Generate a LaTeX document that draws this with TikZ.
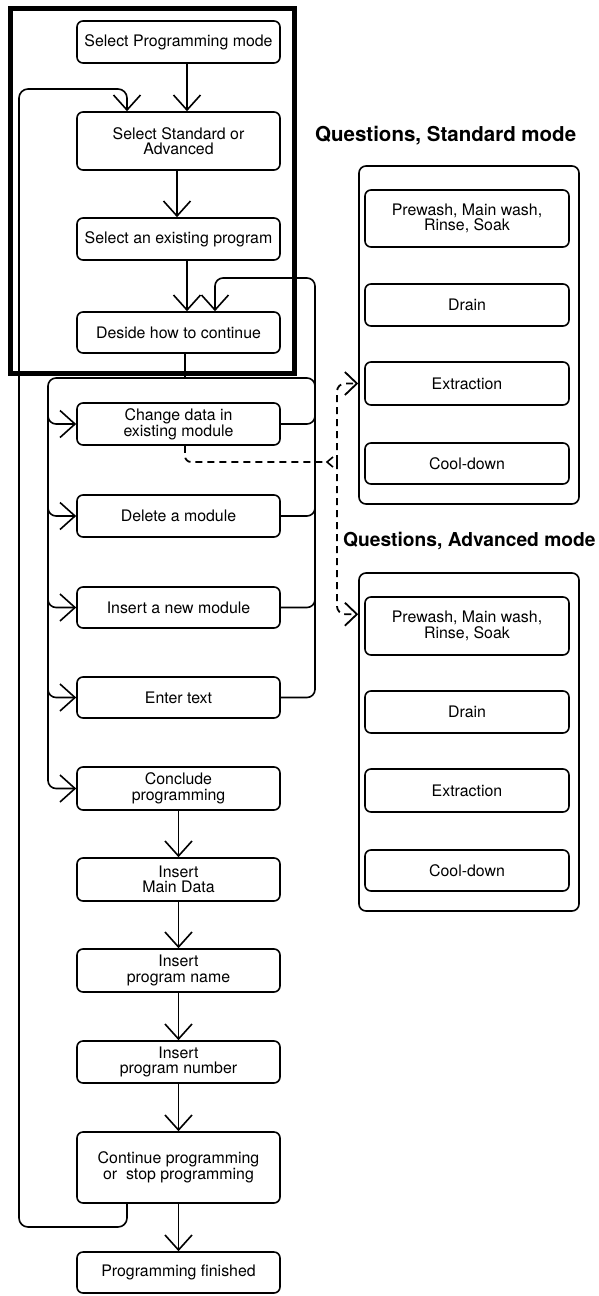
\documentclass[tikz,border=0pt]{standalone}
\usepackage{fontspec}
\setmainfont{TeX Gyre Heros}
\usetikzlibrary{arrows.meta,calc}
\begin{document}
\begin{tikzpicture}[x=1pt,y=-1pt,
  box/.style={draw, line width=1.6pt, rounded corners=6pt, minimum width=203pt, inner sep=0pt, align=center, font=\fontsize{15.9}{15.6}\selectfont},
  qbox/.style={box, minimum width=204pt},
  panel/.style={draw, line width=1.6pt, rounded corners=7pt, minimum width=220pt, minimum height=338pt, inner sep=0pt},
  ln/.style={line width=1.6pt},
  arr/.style={ln, -{Straight Barb[length=15pt,width=27pt]}},
  dsh/.style={line width=1.8pt, dash pattern=on 7pt off 5pt},
  darr/.style={dsh, -{Straight Barb[length=12pt,width=23pt]}},
  hd/.style={anchor=base west, inner sep=0pt, font=\bfseries\fontsize{#1}{#1}\selectfont}
]
\useasboundingbox (0,0) rectangle (598,1296);

% main column
\node[box, minimum height=42pt] (sel)  at (178.5,42)    {Select Programming mode};
\node[box, minimum height=58pt] (std)  at (178.5,141)   {Select Standard or\\Advanced};
\node[box, minimum height=42pt] (exi)  at (178.5,239)   {Select an existing program};
\node[box, minimum height=41pt] (des)  at (178.5,332.5) {Deside how to continue};
\node[box, minimum height=42pt] (chg)  at (178.5,424)   {Change data in\\existing module};
\node[box, minimum height=42pt] (del)  at (178.5,516)   {Delete a module};
\node[box, minimum height=41pt] (ins)  at (178.5,607.5) {Insert a new module};
\node[box, minimum height=41pt] (ent)  at (178.5,697.5) {Enter text};
\node[box, minimum height=43pt] (con)  at (178.5,788.5) {Conclude\\programming};
\node[box, minimum height=43pt] (mdat) at (178.5,879.5) {Insert\\Main Data};
\node[box, minimum height=43pt] (pnam) at (178.5,970.5) {Insert\\program name};
\node[box, minimum height=42pt] (pnum) at (178.5,1062)  {Insert\\program number};
\node[box, minimum height=71pt] (cont) at (178.5,1167.5){Continue programming\\or\ \ stop programming};
\node[box, minimum height=41pt] (fin)  at (178.5,1272.5){Programming finished};

% question panels
\node[hd=20.5] (hs) at (315,141) {Questions, Standard mode};
\node[panel] (spanel) at (469,335) {};
\node[qbox, minimum height=57pt] (sp) at (467,218.5) {Prewash, Main wash,\\Rinse, Soak};
\node[qbox, minimum height=42pt] (sd) at (467,305)   {Drain};
\node[qbox, minimum height=43pt] (se) at (467,383.5) {Extraction};
\node[qbox, minimum height=41pt] (sc) at (467,463.5) {Cool-down};

\node[hd=19.2] (ha) at (343,546) {Questions, Advanced mode};
\node[panel] (apanel) at (469,742) {};
\node[qbox, minimum height=58pt] (ap) at (467,626)   {Prewash, Main wash,\\Rinse, Soak};
\node[qbox, minimum height=42pt] (ad) at (467,712)   {Drain};
\node[qbox, minimum height=43pt] (ae) at (467,790.5) {Extraction};
\node[qbox, minimum height=41pt] (ac) at (467,870.5) {Cool-down};

% helper coordinates
\coordinate (xa) at (187,0);
\coordinate (xb) at (177,0);
\coordinate (xc) at (215,0);
\coordinate (xd) at (185,0);
\coordinate (xl) at (127,0);
\coordinate (lb) at (48,378);
\coordinate (rb) at (315,378);
\coordinate (rt) at (315,278);
\coordinate (lp) at (19,1227);
\coordinate (lt) at (19,89);
\coordinate (jn) at (337,462);

% connectors top part
\draw[arr] (sel.south -| xa) -- (std.north -| xa);
\draw[arr] (std.south -| xb) -- (exi.north -| xb);
\draw[arr] (exi.south -| xa) -- (des.north -| xa);
\draw[ln] (des.south -| xd) -- (rb -| xd);

% top bar and left bus
\draw[arr, rounded corners=8pt] ($(rb)+(0,25)$) -- (rb) -- (lb) |- (con.west);
\foreach \n in {chg,del,ins,ent}
  \draw[arr, rounded corners=8pt] ($(lb |- \n.west)+(0,-30)$) |- (\n.west);

% return bus
\draw[arr, rounded corners=8pt] (ent.east) -| (rt) -| (des.north -| xc);
\foreach \n in {chg,del,ins}
  \draw[ln, rounded corners=8pt] (\n.east) -| ($(rt |- \n.east)+(0,-30)$);

% lower chain
\draw[arr] (con) -- (mdat);
\draw[arr] (mdat) -- (pnam);
\draw[arr] (pnam) -- (pnum);
\draw[arr] (pnum) -- (cont);
\draw[arr] (cont) -- (fin);

% loop back
\draw[arr, rounded corners=9pt] (cont.south -| xl) |- (lp) -- (lt) -| (std.north -| xl);

% thick frame
\draw[line width=5pt] (10,8) rectangle (294,373);

% dashed links
\draw[dsh, rounded corners=6pt] (chg.south -| xd) |- ($(jn)+(-13,0)$);
\draw[ln] ($(jn)+(-4,-5)$) -- ($(jn)+(-10,0)$) -- ($(jn)+(-4,5)$);
\draw[darr, rounded corners=8pt] (jn) |- (spanel.west |- se.west);
\draw[darr, rounded corners=8pt] (jn) |- ($(apanel.north west)+(0,42)$);
\end{tikzpicture}
\end{document}
